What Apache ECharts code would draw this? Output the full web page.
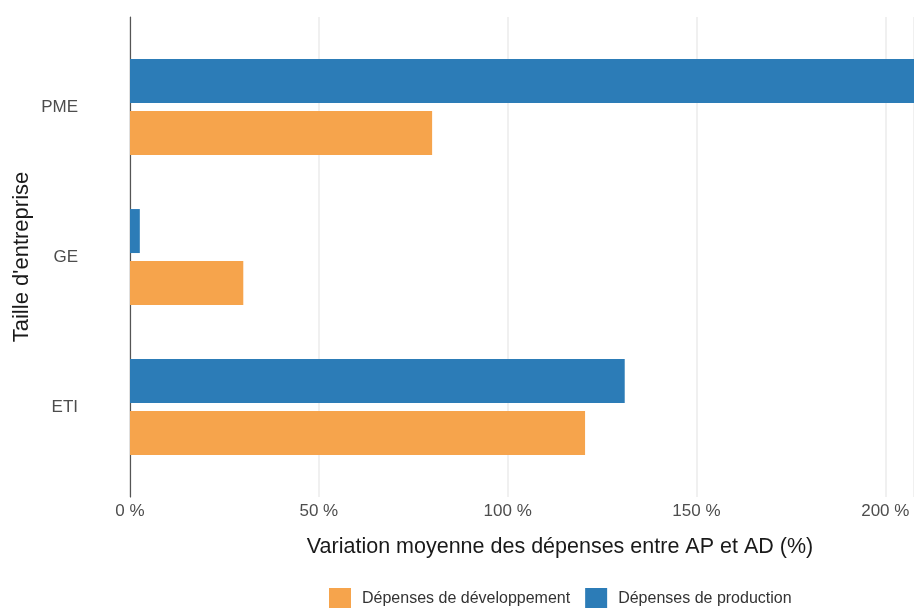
<!DOCTYPE html>
<html>
<head>
<meta charset="utf-8">
<script src="https://cdn.jsdelivr.net/npm/echarts@6/dist/echarts.min.js"></script>
<style>
  html, body { margin: 0; padding: 0; background: #fff; }
  #chart { width: 914px; height: 608px; }
</style>
</head>
<body>
<div id="chart"></div>
<script>
// tailles d'entreprise, du haut vers le bas
var categories = ['PME', 'GE', 'ETI']
// variation moyenne (%) entre AP et AD
var production = [215, 2.6, 131]
var developpement = [80, 30, 120.5]
var xTicks = [0, 50, 100, 150, 200]
var xMax = 207.6

var font = 'Liberation Sans, Arial, sans-serif'
var chart = echarts.init(document.getElementById('chart'))

var option = {
    backgroundColor: '#fff',
    animation: false,
    grid: [
        // grille de fond: axe, lignes verticales, libellés en %
        { left: 130, right: 0, top: 17, height: 480 },
        // grille des barres (expansion ggplot de 0.6 catégorie)
        { left: 130, right: 0, top: 32, height: 450 },
    ],
    xAxis: [
        {
            type: 'value',
            gridIndex: 0,
            min: 0,
            max: xMax,
            interval: 50,
            axisLine: { show: false },
            axisTick: { show: false },
            splitLine: { lineStyle: { color: '#ebebeb', width: 1.5 } },
            axisLabel: {
                margin: 6,
                color: '#4d4d4d',
                fontSize: 17,
                fontFamily: font,
                showMaxLabel: false,
                formatter: function(v) {
                    return xTicks.indexOf(v) >= 0 ? v + ' %' : ''
                },
            },
        },
        {
            type: 'value',
            gridIndex: 1,
            min: 0,
            max: xMax,
            show: false,
        },
    ],
    yAxis: [
        {
            type: 'value',
            gridIndex: 0,
            min: 0,
            max: 1,
            axisLine: { show: true, lineStyle: { color: '#555', width: 1.2 } },
            axisTick: { show: false },
            axisLabel: { show: false },
            splitLine: { show: false },
        },
        {
            type: 'category',
            gridIndex: 1,
            inverse: true,
            data: categories,
            axisLine: { show: false },
            axisTick: { show: false },
            axisLabel: {
                margin: 52,
                color: '#4d4d4d',
                fontSize: 17,
                fontFamily: font,
            },
        },
    ],
    legend: {
        data: ['Dépenses de développement', 'Dépenses de production'],
        left: 324,
        top: 583,
        icon: 'rect',
        itemWidth: 22,
        itemHeight: 22,
        itemGap: 15,
        textStyle: {
            color: '#333',
            fontSize: 16,
            fontFamily: font,
            padding: [0, 0, 0, 6],
        },
    },
    graphic: [
        {
            type: 'text',
            x: 560,
            y: 547,
            style: {
                text: 'Variation moyenne des dépenses entre AP et AD (%)',
                fill: '#1a1a1a',
                font: '21.5px ' + font,
                textAlign: 'center',
                textVerticalAlign: 'middle',
            },
        },
        {
            type: 'text',
            x: 22,
            y: 257,
            rotation: Math.PI / 2,
            style: {
                text: "Taille d'entreprise",
                fill: '#1a1a1a',
                font: '22px ' + font,
                textAlign: 'center',
                textVerticalAlign: 'middle',
            },
        },
    ],
    series: [
        {
            name: 'Dépenses de production',
            type: 'bar',
            xAxisIndex: 1,
            yAxisIndex: 1,
            data: production,
            barWidth: 44,
            barGap: '18%',
            itemStyle: { color: '#2c7cb7' },
        },
        {
            name: 'Dépenses de développement',
            type: 'bar',
            xAxisIndex: 1,
            yAxisIndex: 1,
            data: developpement,
            barWidth: 44,
            barGap: '18%',
            itemStyle: { color: '#f6a44c' },
        },
    ],
}

chart.setOption(option)
</script>
</body>
</html>
